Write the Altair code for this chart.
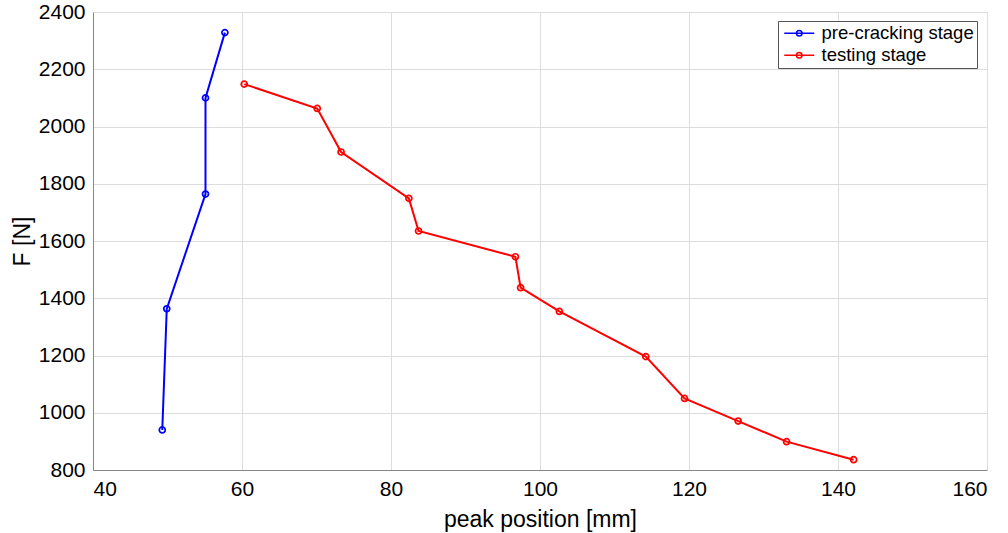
import altair as alt
import pandas as pd

# pre-cracking stage
pre_x = [49.3, 49.9, 55.1, 55.1, 57.7]
pre_F = [940, 1363, 1764, 2100, 2328]

# testing stage
test_x = [60.3, 70.1, 73.3, 82.4, 83.7, 96.7, 97.4, 102.6, 114.2, 119.4, 126.6, 133.1, 142.1]
test_F = [2148, 2063, 1911, 1749, 1635, 1545, 1437, 1354, 1196, 1050, 971, 899, 836]

series_names = ["pre-cracking stage", "testing stage"]
series_colors = ["#0000FF", "#FF0000"]

x_ticks = [40, 60, 80, 100, 120, 140, 160]
y_ticks = [800, 1000, 1200, 1400, 1600, 1800, 2000, 2200, 2400]

rows = []
for i, (x, f) in enumerate(zip(pre_x, pre_F)):
    rows.append({"series": series_names[0], "x": x, "F": f, "idx": i})
for i, (x, f) in enumerate(zip(test_x, test_F)):
    rows.append({"series": series_names[1], "x": x, "F": f, "idx": i})
df = pd.DataFrame(rows)

FONT = "Liberation Sans"
TXT = "#262626"

xenc = alt.X("x:Q", scale=alt.Scale(domain=[40, 160], nice=False),
             axis=alt.Axis(values=x_ticks, title="peak position [mm]", tickSize=0, format="d",
                           labelPadding=8, titleY=56, titleBaseline="alphabetic",
                           titleFontWeight="normal",
                           labelFontSize=21, titleFontSize=23))
yenc = alt.Y("F:Q", scale=alt.Scale(domain=[800, 2400], nice=False),
             axis=alt.Axis(values=y_ticks, title="F [N]", tickSize=0, labelPadding=8, format="d",
                           titleX=-64, titleY=229, titleBaseline="alphabetic",
                           titleFontWeight="normal",
                           labelFontSize=21, titleFontSize=23))

color_scale = alt.Scale(domain=series_names, range=series_colors)

symbol_path = "M-3,0L3,0M0.55,0A0.55,0.55,0,1,1,-0.55,0A0.55,0.55,0,1,1,0.55,0"

lines = alt.Chart(df).mark_line(strokeWidth=2).encode(
    x=xenc, y=yenc,
    color=alt.Color("series:N", scale=color_scale,
                    legend=alt.Legend(title=None, orient="none", legendX=685, legendY=9,
                                      symbolType=symbol_path, symbolSize=100,
                                      symbolStrokeWidth=1.6, symbolFillColor="transparent",
                                      symbolOffset=9, labelOffset=13, padding=3,
                                      rowPadding=3, labelFontSize=18.5, labelFont=FONT,
                                      labelColor="#000000",
                                      strokeColor="#555555", fillColor="white")),
    order="idx:Q",
)

points = alt.Chart(df).mark_point(shape="circle", filled=False, size=36, strokeWidth=1.7, opacity=1).encode(
    x=xenc, y=yenc,
    color=alt.Color("series:N", scale=color_scale, legend=None),
)

chart = (lines + points).properties(
    width=894, height=458,
    autosize=alt.AutoSizeParams(type="none"),
    padding={"left": 93, "top": 12, "right": 21, "bottom": 63},
).configure_view(
    stroke="#555555", strokeWidth=1
).configure_axis(
    labelFont=FONT, titleFont=FONT, labelColor=TXT, titleColor=TXT,
    domainColor="#555555",
    gridColor="#e3e3e3", gridWidth=1, grid=True,
).configure(background="white")

chart.save("out.html", embed_options={"renderer": "svg", "actions": False})
